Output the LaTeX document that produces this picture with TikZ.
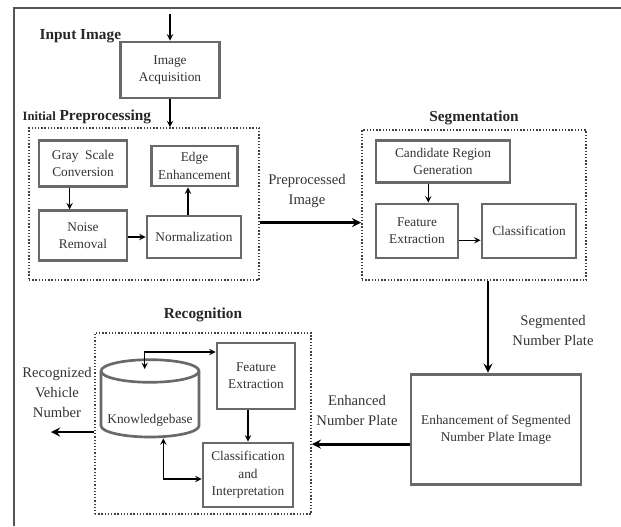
\documentclass[tikz,border=0pt]{standalone}
\usepackage{fontspec}
\setmainfont{Liberation Serif}
\usetikzlibrary{shapes.geometric, arrows, positioning, calc}
\definecolor{boxgray}{RGB}{105,105,105}
\definecolor{framegray}{RGB}{85,85,85}
\definecolor{inkgray}{RGB}{50,50,50}

\begin{document}
\begin{tikzpicture}[
    x=0.75pt, y=-0.75pt,
    block/.style={rectangle, draw=boxgray, line width=2.2pt, text=inkgray, align=center, inner sep=2pt, font=\fontsize{10}{13}\selectfont},
    store/.style={cylinder, shape border rotate=90, aspect=0.25, draw=boxgray, line width=2pt, inner sep=2pt, font=\fontsize{10}{13}\selectfont},
    group/.style={rectangle, draw=black!75, line width=1.3pt, dash pattern=on 1pt off 1.4pt},
    title/.style={font=\fontsize{11.5}{14}\selectfont\bfseries, text=black!85},
    note/.style={align=center, font=\fontsize{11}{15}\selectfont, text=black!80},
    arr/.style={->, >=stealth, line width=1.1pt},
    bigarr/.style={->, >=stealth, line width=2pt},
    dblarr/.style={<->, >=stealth, line width=1.1pt},
]
\useasboundingbox (0,0) rectangle (621,526);
% Frame
\draw[framegray, line width=1.6pt] (14,526) -- (14,8) -- (621,8);

% Input
\coordinate (in) at (170,14);
\node[block, minimum width=74pt, minimum height=42pt] (acq) at (170,70) {Image\\Acquisition};
\node[title, anchor=west] (lin) at (35,36) {Input Image};

% Preprocessing
\node[group, minimum width=172.5pt, minimum height=114pt] (prep) at (144,204) {};
\node[title, anchor=west] (lpre) at (18,117) {{\fontsize{9.5}{12}\selectfont Initial} Preprocessing};
\node[block, minimum width=66pt, minimum height=34pt] (gray) at (83,163.5) {Gray\ \ Scale\\Conversion};
\node[block, minimum width=65pt, minimum height=30pt] (edge) at (194.5,166) {Edge\\Enhancement};
\node[block, minimum width=66pt, minimum height=37pt] (noise) at (83,235.5) {Noise\\Removal};
\node[block, minimum width=70.5pt, minimum height=31.5pt] (norm) at (194,237) {Normalization};
\node[note] (lpimg) at (307,191) {Preprocessed\\Image};

% Segmentation
\node[group, minimum width=168pt, minimum height=112.5pt] (seg) at (474,205) {};
\node[title, above=0pt of seg] (lseg) {Segmentation};
\node[block, minimum width=100.5pt, minimum height=31pt] (cand) at (443,161.5) {Candidate Region\\Generation};
\node[block, minimum width=61.5pt, minimum height=40.5pt] (sfe) at (417,231) {Feature\\Extraction};
\node[block, minimum width=70.5pt, minimum height=40.5pt] (cls) at (529,231) {Classification};
\node[note] (lsnp) at (553,330) {Segmented\\Number Plate};

% Enhancement
\node[block, minimum width=127.5pt, minimum height=83pt] (enh) at (496,429.5) {Enhancement\ of Segmented\\Number Plate Image};
\node[note] (lenp) at (357,410) {Enhanced\\Number Plate};

% Recognition
\node[group, minimum width=162pt, minimum height=136pt] (recog) at (203,423.5) {};
\node[title, above=4pt of recog] (lrec) {Recognition};
\node[store, minimum width=73.5pt, minimum height=58pt] (kb) at (150,406.5) {\phantom{Knowledgebase}};
\node[block, draw=none, below=3pt of kb.center] (lkb) {Knowledgebase};
\node[block, minimum width=58.5pt, minimum height=49.5pt] (rfe) at (256,376) {Feature\\Extraction};
\node[block, minimum width=67.5pt, minimum height=48pt] (ci) at (248,475) {Classification\\and\\Interpretation};
\coordinate (out) at (51,432);
\node[note] (lrvn) at (57,392) {Recognized\\Vehicle\\Number};

% Arrows
\draw[arr] (in) -- (acq.north);
\draw[arr] (acq.south) -- (acq.south |- prep.north);
\draw[arr] ([xshift=-10pt]gray.south) -- ([xshift=-10pt]gray.south |- noise.north);
\draw[arr] (noise.east |- norm) -- (norm.west);
\draw[arr] ([xshift=-4.5pt]norm.north) -- ([xshift=-4.5pt]norm.north |- edge.south);
\draw[bigarr] ([yshift=-14pt]prep.east) -- ([yshift=-14pt]prep.east -| seg.west);
\draw[arr] ([xshift=-11pt]cand.south) -- ([xshift=-11pt]cand.south |- sfe.north);
\draw[arr] ([yshift=-7pt]sfe.east) -- ([yshift=-7pt]sfe.east -| cls.west);
\draw[bigarr] ([xshift=-6pt]enh.north |- seg.south) -- ([xshift=-6pt]enh.north);
\draw[bigarr] ([yshift=-11pt]enh.west) -- ([yshift=-11pt]enh.west -| recog.east);
\draw[arr] (rfe.south -| ci.north) -- (ci.north);
\draw[dblarr] ([xshift=-4pt,yshift=-8pt]kb.north) |- ([yshift=18pt]rfe.west);
\draw[dblarr] ([xshift=10pt]kb.south) |- ([yshift=-3pt]ci.west);
\draw[bigarr] (recog.west |- out) -- (out);
\end{tikzpicture}
\end{document}
